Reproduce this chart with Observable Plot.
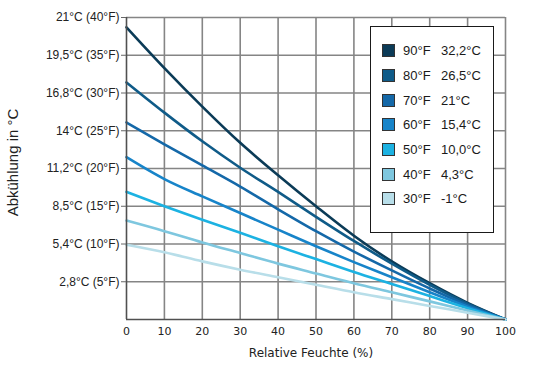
<!DOCTYPE html>
<html><head><meta charset="utf-8">
<script src="https://cdn.jsdelivr.net/npm/d3@7"></script>
<script src="https://cdn.jsdelivr.net/npm/@observablehq/plot@0.6"></script>
<style>
body{margin:0;background:#fff}
#wrap{position:relative;width:538px;height:370px;overflow:hidden}
#legend{position:absolute;left:370px;top:26px;width:124px;height:207px;border:1.5px solid #1a1a1a;background:#fff;box-sizing:border-box;font-family:"Liberation Sans",Arial,sans-serif;font-size:13px;color:#1a1a1a;padding-top:11.5px}
.row{height:24.7px;display:flex;align-items:center;white-space:pre}
.sw{width:13px;height:13px;border:1px solid #333;box-sizing:border-box;margin-left:11px;margin-right:8px}
.c1{width:38px}
</style></head><body>
<div id="wrap"></div>
<script>
const humidity = [0, 10, 20, 30, 40, 50, 60, 70, 80, 90, 100];
const s90 = [38.7, 33.3, 28.2, 23.4, 19.1, 15.0, 11.1, 7.7, 4.8, 2.2, 0];
const s80 = [31.4, 27.4, 23.6, 20.1, 16.9, 13.6, 10.4, 7.4, 4.6, 2.1, 0];
const s70 = [26.1, 23.2, 20.4, 17.6, 14.6, 11.7, 9.0, 6.5, 4.1, 1.9, 0];
const s60 = [21.5, 18.6, 16.3, 14.1, 11.9, 9.7, 7.6, 5.6, 3.6, 1.7, 0];
const s50 = [16.9, 15.0, 13.2, 11.5, 9.7, 8.0, 6.3, 4.7, 3.1, 1.5, 0];
const s40 = [13.1, 11.7, 10.2, 8.8, 7.4, 6.1, 4.8, 3.6, 2.4, 1.2, 0];
const s30 = [9.9, 8.9, 7.7, 6.6, 5.6, 4.6, 3.6, 2.7, 1.8, 0.9, 0];
const seriesF = ["90°F", "80°F", "70°F", "60°F", "50°F", "40°F", "30°F"];
const seriesC = ["32,2°C", "26,5°C", "21°C", "15,4°C", "10,0°C", "4,3°C", "-1°C"];
const colors = ["#0b3b57", "#0f5b88", "#1468a8", "#1784c9", "#1cb2e2", "#7ec7df", "#b8dee9"];
const xTicks = [0, 10, 20, 30, 40, 50, 60, 70, 80, 90, 100];
const yTicks = [5, 10, 15, 20, 25, 30, 35, 40];
const yTickLabels = ["2,8°C (5°F)", "5,4°C (10°F)", "8,5°C (15°F)", "11,2°C (20°F)", "14°C (25°F)", "16,8°C (30°F)", "19,5°C (35°F)", "21°C (40°F)"];
const xTitle = "Relative Feuchte (%)";
const yTitle = "Abkühlung in °C";

const values = [s90, s80, s70, s60, s50, s40, s30];
const rows = [];
values.forEach((vals, i) => vals.forEach((v, j) => rows.push({h: humidity[j], v, s: seriesF[i]})));

const chart = Plot.plot({
  width: 538, height: 370,
  marginLeft: 126, marginRight: 33, marginTop: 17, marginBottom: 51,
  x: {domain: [0, 100]},
  y: {domain: [0, 40]},
  color: {domain: seriesF, range: colors},
  style: {background: "#fff"},
  marks: [
    Plot.ruleX(xTicks.slice(1), {stroke: "#858585", strokeWidth: 1.6}),
    Plot.ruleY(yTicks, {stroke: "#858585", strokeWidth: 1.6}),
    Plot.line(rows, {x: "h", y: "v", z: "s", stroke: "s", strokeWidth: 2.6, curve: "monotone-x"}),
    Plot.ruleX([0], {stroke: "#505050", strokeWidth: 1.6}),
    Plot.ruleY([0], {stroke: "#505050", strokeWidth: 1.6}),
    Plot.axisX({ticks: xTicks, tickSize: 0, tickPadding: 8, label: null, fontSize: 11, fontFamily: "DejaVu Sans", fill: "#222"}),
    Plot.axisY({ticks: yTicks, tickSize: 5, tickPadding: 2, label: null, stroke: "#666", fontSize: 12, fontFamily: "Liberation Sans", fill: "#222",
      tickFormat: d => yTickLabels[yTicks.indexOf(d)]}),
    Plot.text([yTitle], {frameAnchor: "left", textAnchor: "middle", dx: -113, dy: -6, rotate: -90, fontSize: 15, fontFamily: "Liberation Sans", fill: "#222"}),
    Plot.text([xTitle], {frameAnchor: "bottom", dx: -5, dy: 37, fontSize: 12, fontFamily: "DejaVu Sans", fill: "#222"})
  ]
});
const wrap = document.getElementById("wrap");
wrap.appendChild(chart);
const leg = document.createElement("div");
leg.id = "legend";
seriesF.forEach((f, i) => {
  const r = document.createElement("div");
  r.className = "row";
  r.innerHTML = `<div class="sw" style="background:${colors[i]}"></div><span class="c1">${f}</span><span>${seriesC[i]}</span>`;
  leg.appendChild(r);
});
wrap.appendChild(leg);
</script>
</body></html>
